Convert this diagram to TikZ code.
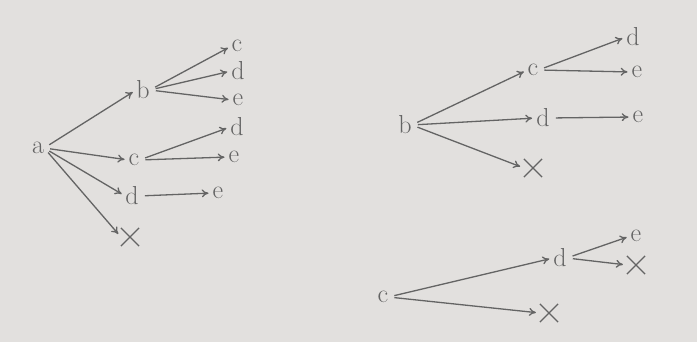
\documentclass[tikz,border=0pt]{standalone}
\usepackage{tikz}
\usetikzlibrary{arrows.meta,shapes.misc}
\definecolor{paper}{RGB}{226,224,222}
\definecolor{ink}{RGB}{100,100,100}

\begin{document}
\begin{tikzpicture}[x=1pt,y=-1pt,
letter/.style={text=ink,inner sep=0pt,font=\fontsize{26}{28}\selectfont},
gone/.style={cross out,draw=ink,line width=1.2pt,minimum size=17pt,inner sep=0pt},
arrow/.style={-{To[length=2.4mm,width=2.8mm]},draw=ink,line width=1.3pt,shorten <=6pt,shorten >=4pt}]
\fill[paper] (0,0) rectangle (697,342);
% first tree, from a
\node[letter] (a) at (38,148) {a};
\node[letter] (b1) at (143,90) {b};
\node[letter] (b1c) at (237,46) {c};
\node[letter] (b1d) at (238,71) {d};
\node[letter] (b1e) at (238,100) {e};
\node[letter] (c1) at (134,160) {c};
\node[letter] (c1d) at (237,127) {d};
\node[letter] (c1e) at (234,157) {e};
\node[letter] (d1) at (132,196) {d};
\node[letter] (d1e) at (218,193) {e};
\node[gone] (x1) at (130,237) {};
\draw[arrow] (a.east)--(b1.west); \draw[arrow] (a.east)--(c1.west);
\draw[arrow] (a.east)--(d1.west); \draw[arrow] (a.east)--(x1.west);
\draw[arrow] (b1.east)--(b1c.west); \draw[arrow] (b1.east)--(b1d.west); \draw[arrow] (b1.east)--(b1e.west);
\draw[arrow] (c1.east)--(c1d.west); \draw[arrow] (c1.east)--(c1e.west);
\draw[arrow] (d1.east)--(d1e.west);
% second tree, from b
\node[letter] (b) at (405,125) {b};
\node[letter] (c2) at (533,70) {c};
\node[letter] (c2d) at (633,37) {d};
\node[letter] (c2e) at (637,72) {e};
\node[letter] (d2) at (543,118) {d};
\node[letter] (d2e) at (638,117) {e};
\node[gone] (x2) at (533,168) {};
\draw[arrow] (b.east)--(c2.west); \draw[arrow] (b.east)--(d2.west); \draw[arrow] (b.east)--(x2.west);
\draw[arrow] (c2.east)--(c2d.west); \draw[arrow] (c2.east)--(c2e.west);
\draw[arrow] (d2.east)--(d2e.west);
% third tree, from c
\node[letter] (c) at (383,297) {c};
\node[letter] (d3) at (560,258) {d};
\node[letter] (d3e) at (636,236) {e};
\node[gone] (x3) at (636,265) {};
\node[gone] (x4) at (549,313) {};
\draw[arrow] (c.east)--(d3.west); \draw[arrow] (c.east)--(x4.west);
\draw[arrow] (d3.east)--(d3e.west); \draw[arrow] (d3.east)--(x3.west);
\end{tikzpicture}
\end{document}
